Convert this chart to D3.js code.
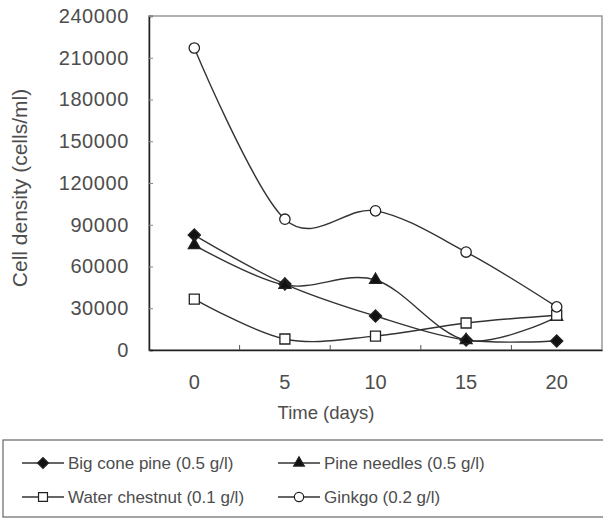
<!DOCTYPE html>
<html>
<head>
<meta charset="utf-8">
<script src="https://cdn.jsdelivr.net/npm/d3@7"></script>
<style>
  body { margin: 0; background: #fff; }
  svg text { font-family: "Liberation Sans", Arial, sans-serif; fill: #4d4d4d; }
</style>
</head>
<body>
<div id="chart"></div>
<script>
// chart data
var days = ["0", "5", "10", "15", "20"];
var yTicks = [0, 30000, 60000, 90000, 120000, 150000, 180000, 210000, 240000];
var bigConePine = [82600, 47400, 24400, 7200, 6500];
var pineNeedles = [75400, 46700, 50300, 7000, 23700];
var waterChestnut = [36600, 7900, 10000, 19400, 25000];
var ginkgo = [217000, 94000, 100000, 70400, 31000];

var seriesNames = ["Big cone pine (0.5 g/l)", "Pine needles (0.5 g/l)", "Water chestnut (0.1 g/l)", "Ginkgo (0.2 g/l)"];
var seriesValues = [bigConePine, pineNeedles, waterChestnut, ginkgo];
// diamond is drawn as a square turned 45 degrees
var seriesShapes = [d3.symbolSquare, d3.symbolTriangle, d3.symbolSquare, d3.symbolCircle];
var seriesRotate = [45, 0, 0, 0];
var seriesFill = ["#111", "#111", "#fff", "#fff"];
var symbolSizes = [75, 62, 100, 85];

var svgWidth = 603, svgHeight = 520;
var margin = { top: 16, left: 149, right: 1 };
var width = svgWidth - margin.left - margin.right;
var height = 350 - margin.top;

var svg = d3.select("#chart").append("svg")
  .attr("width", svgWidth)
  .attr("height", svgHeight);

var chartGroup = svg.append("g")
  .attr("transform", `translate(${margin.left}, ${margin.top})`);

var xScale = d3.scaleBand().domain(days).range([0, width]);
var yScale = d3.scaleLinear().domain([0, 240000]).range([height, 0]);

// plot frame
chartGroup.append("rect")
  .attr("width", width).attr("height", height)
  .attr("fill", "none").attr("stroke", "#999").attr("stroke-width", 1.5);

// y axis
var yAxis = chartGroup.append("g")
  .call(d3.axisLeft(yScale).tickValues(yTicks).tickFormat(d3.format("d")).tickSize(-4).tickPadding(20));
yAxis.select(".domain").attr("stroke", "#222").attr("stroke-width", 1.5);
yAxis.selectAll(".tick line").attr("stroke", "#888");
yAxis.selectAll("text").attr("font-size", 20).style("font-family", "Liberation Sans, Arial, sans-serif")
  .style("letter-spacing", "0.6px").attr("fill", "#4d4d4d");

// x axis, ticks between categories
var xAxis = chartGroup.append("g")
  .attr("transform", `translate(0, ${height})`)
  .call(d3.axisBottom(xScale).tickSize(0).tickPadding(25));
xAxis.select(".domain").attr("stroke", "#222").attr("stroke-width", 1.5);
xAxis.selectAll("text").attr("font-size", 20).style("font-family", "Liberation Sans, Arial, sans-serif").attr("fill", "#4d4d4d");
xAxis.selectAll(".sep")
  .data(days.slice(1))
  .enter().append("line")
  .attr("x1", d => xScale(d))
  .attr("x2", d => xScale(d))
  .attr("y1", 0).attr("y2", -5)
  .attr("stroke", "#555");

var line = d3.line()
  .x((d, i) => xScale(days[i]) + xScale.bandwidth() / 2)
  .y(d => yScale(d))
  .curve(d3.curveCardinal.tension(0));

seriesValues.forEach(function(vals, s) {
  chartGroup.append("path")
    .datum(vals)
    .attr("d", line)
    .attr("fill", "none")
    .attr("stroke", "#333")
    .attr("stroke-width", 1.4);
});

seriesValues.forEach(function(vals, s) {
  chartGroup.selectAll(".m" + s)
    .data(vals)
    .enter().append("path")
    .attr("transform", (d, i) => `translate(${xScale(days[i]) + xScale.bandwidth() / 2}, ${yScale(d)}) rotate(${seriesRotate[s]})`)
    .attr("d", d3.symbol().type(seriesShapes[s]).size(symbolSizes[s]))
    .attr("fill", seriesFill[s])
    .attr("stroke", "#222")
    .attr("stroke-width", 1.3);
});

// axis labels
svg.append("text")
  .attr("transform", "rotate(-90)")
  .attr("x", -188)
  .attr("y", 27)
  .attr("text-anchor", "middle")
  .attr("font-size", 21)
  .text("Cell density (cells/ml)");

svg.append("text")
  .attr("x", 326)
  .attr("y", 419)
  .attr("text-anchor", "middle")
  .attr("font-size", 18.5)
  .text("Time (days)");

// legend
var legend = svg.append("g");
legend.append("rect")
  .attr("x", 3).attr("y", 440).attr("width", 620).attr("height", 77)
  .attr("fill", "none").attr("stroke", "#666").attr("stroke-width", 1.2);

var legendPos = [[22, 463], [278, 463], [22, 497], [278, 497]];
seriesNames.forEach(function(name, s) {
  var g = legend.append("g").attr("transform", `translate(${legendPos[s][0]}, ${legendPos[s][1]})`);
  g.append("line").attr("x1", 0).attr("x2", 42).attr("stroke", "#333").attr("stroke-width", 1.4);
  g.append("path")
    .attr("transform", `translate(21, 0) rotate(${seriesRotate[s]})`)
    .attr("d", d3.symbol().type(seriesShapes[s]).size(symbolSizes[s] * 0.8))
    .attr("fill", seriesFill[s]).attr("stroke", "#222").attr("stroke-width", 1.2);
  g.append("text")
    .attr("x", 46).attr("y", 6)
    .attr("font-size", 17)
    .text(name);
});
</script>
</body>
</html>
